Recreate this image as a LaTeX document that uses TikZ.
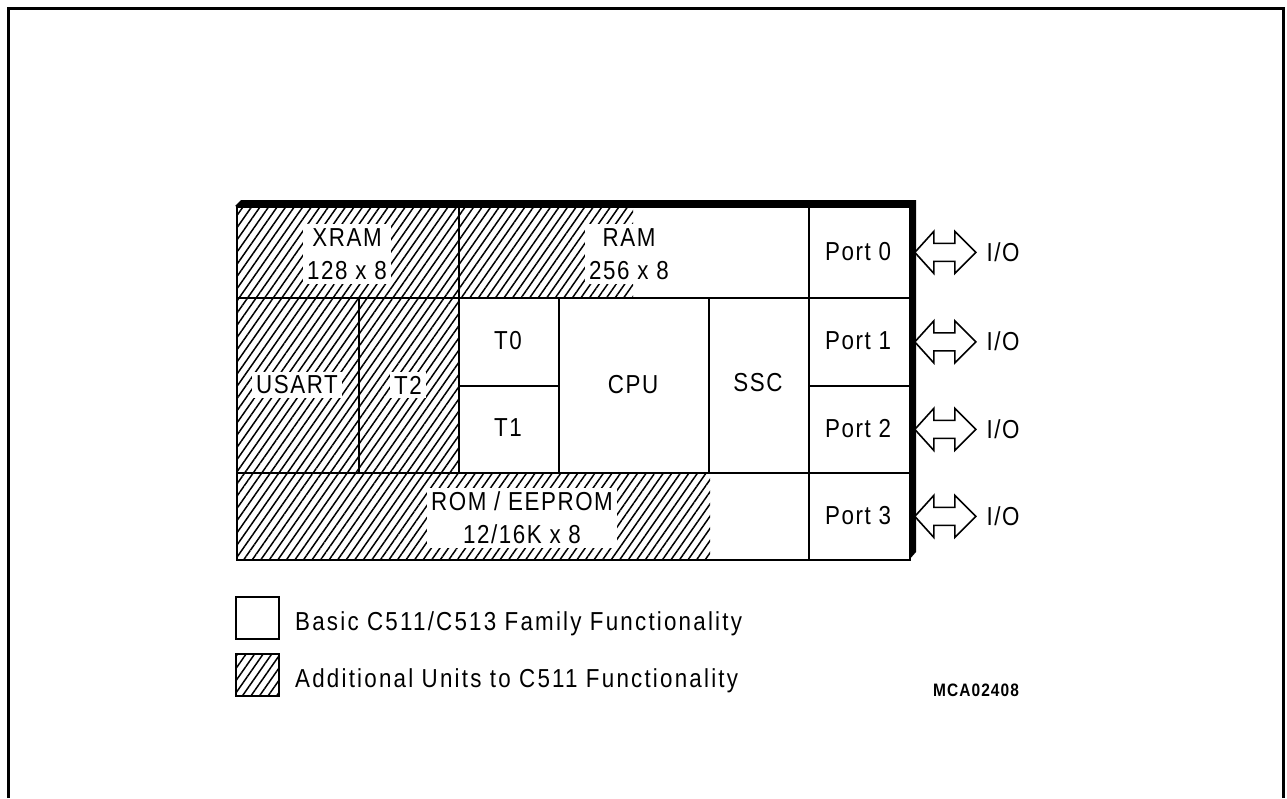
\documentclass[tikz,border=0pt]{standalone}
\usepackage{fontspec}
\setmainfont{Liberation Sans}[FakeStretch=0.86,LetterSpace=6]
\usetikzlibrary{patterns.meta,calc}
\begin{document}
\begin{tikzpicture}[x=1pt,y=-1pt,
  cell/.style={draw,line width=1.8pt,rectangle,inner sep=0pt,anchor=north west},
  hatch/.style={pattern={Lines[angle=55,distance=7pt,line width=1.5pt]}},
  txt/.style={inner sep=0pt,font=\fontsize{26}{33}\selectfont,align=center},
  lab/.style={txt,fill=white,inner sep=4pt},
  legtxt/.style={txt,anchor=west,font=\fontsize{26}{33}\selectfont\addfontfeatures{LetterSpace=8.5}},
  bidir/.style={draw,line width=1.6pt,fill=white,line join=miter}
]
\useasboundingbox (0,0) rectangle (1287,798);
% outer frame
\draw[line width=3pt] (8,798) -- (8,8) -- (1283,8) -- (1283,798);

% hatched partial areas
\fill[hatch] (458,206) rectangle (633,297);
\fill[hatch] (236,472) rectangle (710,559);

% cells
\node[cell,hatch,minimum width=222pt,minimum height=91pt] (xram) at (236,206) {};
\node[cell,minimum width=350pt,minimum height=91pt] (ram) at (458,206) {};
\node[cell,minimum width=101pt,minimum height=91pt] (p0) at (808,206) {};
\node[cell,hatch,minimum width=122pt,minimum height=175pt] (usart) at (236,297) {};
\node[cell,hatch,minimum width=100pt,minimum height=175pt] (t2) at (358,297) {};
\node[cell,minimum width=100pt,minimum height=88pt] (t0) at (458,297) {};
\node[cell,minimum width=100pt,minimum height=87pt] (t1) at (458,385) {};
\node[cell,minimum width=150pt,minimum height=175pt] (cpu) at (558,297) {};
\node[cell,minimum width=100pt,minimum height=175pt] (ssc) at (708,297) {};
\node[cell,minimum width=101pt,minimum height=88pt] (p1) at (808,297) {};
\node[cell,minimum width=101pt,minimum height=87pt] (p2) at (808,385) {};
\node[cell,minimum width=572pt,minimum height=87pt] (rom) at (236,472) {};
\node[cell,minimum width=101pt,minimum height=87pt] (p3) at (808,472) {};

% shadow band (top and right)
\fill (235,206) -- (241,200) -- (916,200) -- (916,552) -- (909,560) -- (909,206) -- cycle;

% labels
\node[lab] (lxram) at (347,254) {XRAM\\128 x 8};
\node[lab] (lram) at (629,254) {RAM\\256 x 8};
\node[lab] (lrom) at (522,518) {ROM / EEPROM\\12/16K x 8};
\node[lab] (lusart) at (297,385) {USART};
\node[lab] (lt2) at (408,385) {T2};
\node[txt] (lt0) at (508,341) {T0};
\node[txt] (lt1) at (508,428) {T1};
\node[txt] (lcpu) at (633,385) {CPU};
\node[txt] (lssc) at (758,383) {SSC};
\node[txt] (lp0) at (858,252) {Port 0};
\node[txt] (lp1) at (858,341) {Port 1};
\node[txt] (lp2) at (858,429) {Port 2};
\node[txt] (lp3) at (858,516) {Port 3};

% I/O labels and arrows
\foreach \p/\y in {p0/252,p1/341,p2/429,p3/516}{
  \node[txt] (io\p) at (1003,\y) {I/O};
  \draw[bidir] ($(\p.east)+(4,0)$) coordinate (a\p)
    -- ++(19,-21) -- ++(0,12) -- ++(21,0) -- ++(0,-12) -- ++(21,21)
    -- ++(-21,21) -- ++(0,-12) -- ++(-21,0) -- ++(0,12) -- cycle;
}

% legend
\node[cell,minimum width=43pt,minimum height=42pt] (leg1) at (235,596) {};
\node[cell,hatch,minimum width=43pt,minimum height=42pt] (leg2) at (235,653) {};
\node[legtxt] (legt1) at (295,624) {Basic C511/C513 Family Functionality};
\node[legtxt] (legt2) at (295,681) {Additional Units to C511 Functionality};
\node[inner sep=0pt,font=\fontsize{18}{20}\selectfont\bfseries] (code) at (976,690) {MCA02408};
\end{tikzpicture}
\end{document}
